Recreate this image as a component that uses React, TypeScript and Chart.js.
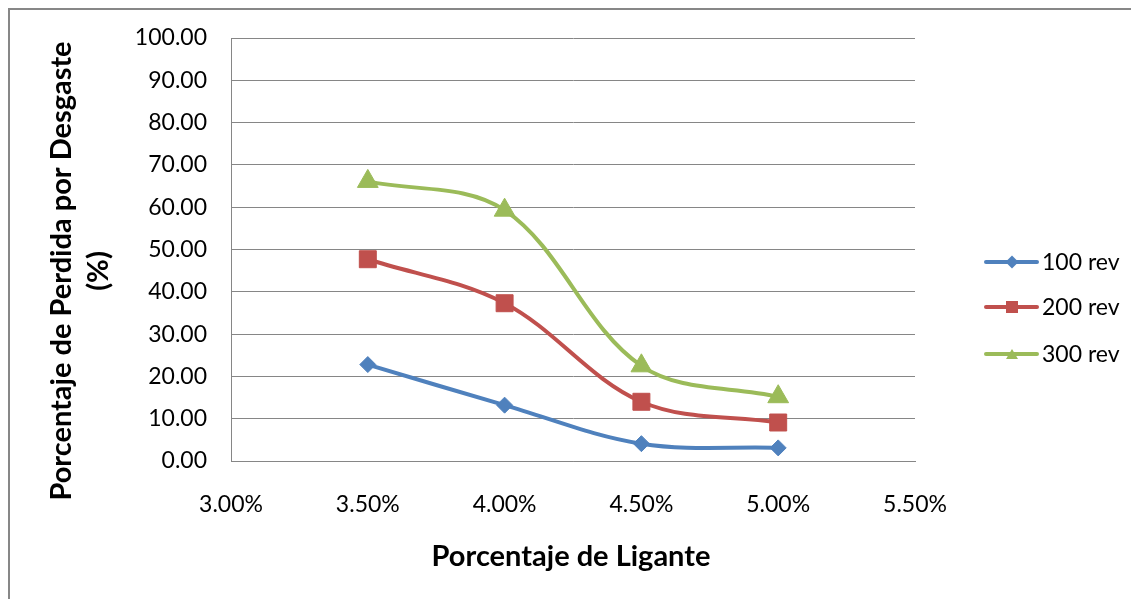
import { useEffect, useRef } from 'react';
import { Chart, registerables } from 'chart.js';

Chart.register(...registerables);

// Binder content (%) on the x axis
const binderPct = [3.5, 4.0, 4.5, 5.0];

// Abrasion loss (%) after each number of revolutions
const loss100 = [22.8, 13.2, 4.1, 3.1];
const loss200 = [47.7, 37.3, 14.0, 9.1];
const loss300 = [66.1, 59.3, 22.5, 15.2];

const seriesNames = ['100 rev', '200 rev', '300 rev'];
const seriesColors = ['#4F81BD', '#C0504D', '#9BBB59'];
const seriesMarkers = ['rectRot', 'rect', 'triangle'] as const;
const seriesValues = [loss100, loss200, loss300];

const xTitle = 'Porcentaje de Ligante';
const yTitleLines = ['Porcentaje de Perdida por Desgaste', '(%)'];

const FONT = 'Lato, "Open Sans", sans-serif';

function drawMarker(ctx: CanvasRenderingContext2D, kind: string, x: number, y: number, s: number) {
  ctx.beginPath();
  if (kind === 'rectRot') {
    ctx.moveTo(x - s, y);
    ctx.lineTo(x, y - s);
    ctx.lineTo(x + s, y);
    ctx.lineTo(x, y + s);
  } else if (kind === 'rect') {
    ctx.rect(x - s, y - s, 2 * s, 2 * s);
  } else {
    const h = s * 1.7;
    ctx.moveTo(x, y - h / 2);
    ctx.lineTo(x + s, y + h / 2);
    ctx.lineTo(x - s, y + h / 2);
  }
  ctx.closePath();
  ctx.fill();
}

// Axis titles and the right-hand legend
const decorations = {
  id: 'decorations',
  afterDraw(chart: Chart) {
    const ctx = chart.ctx;
    ctx.save();
    ctx.fillStyle = '#000';
    ctx.textAlign = 'center';
    ctx.textBaseline = 'middle';
    ctx.font = `bold 29px ${FONT}`;
    ctx.fillText(xTitle, 561, 547);

    ctx.save();
    ctx.translate(52, 261);
    ctx.rotate(-Math.PI / 2);
    ctx.fillText(yTitleLines[0], 0, 0);
    ctx.fillText(yTitleLines[1], 0, 37);
    ctx.restore();

    const rows = [252, 297, 344];
    ctx.font = `23px ${FONT}`;
    ctx.textAlign = 'left';
    seriesNames.forEach((name, i) => {
      const y = rows[i];
      ctx.strokeStyle = seriesColors[i];
      ctx.fillStyle = seriesColors[i];
      ctx.lineWidth = 4;
      ctx.lineCap = 'round';
      ctx.beginPath();
      ctx.moveTo(976, y);
      ctx.lineTo(1027, y);
      ctx.stroke();
      drawMarker(ctx, seriesMarkers[i], 1002, y, i === 0 ? 6.5 : 6);
      ctx.fillStyle = '#000';
      ctx.fillText(name, 1032, y + 1);
    });
    ctx.restore();
  },
};

export default function App() {
  const canvasRef = useRef<HTMLCanvasElement | null>(null);

  useEffect(() => {
    if (!canvasRef.current) return;
    const chart = new Chart(canvasRef.current, {
      type: 'line',
      data: {
        datasets: seriesValues.map((vals, i) => ({
          label: seriesNames[i],
          data: binderPct.map((x, j) => ({ x, y: vals[j] })),
          borderColor: seriesColors[i],
          backgroundColor: seriesColors[i],
          borderWidth: 4,
          tension: 0.35,
          pointStyle: seriesMarkers[i],
          pointRadius: i === 0 ? 8 : 12,
          pointBorderWidth: 1,
          pointBackgroundColor: seriesColors[i],
          pointBorderColor: seriesColors[i],
          fill: false,
        })),
      },
      options: {
        responsive: false,
        animation: false,
        layout: { padding: { left: 0, top: 28, right: 224, bottom: 0 } },
        plugins: {
          legend: { display: false },
          tooltip: { enabled: false },
          title: { display: false },
        },
        scales: {
          x: {
            type: 'linear',
            min: 3,
            max: 5.5,
            afterFit: (scale: any) => {
              scale.height = 138;
              scale.paddingLeft = 0;
              scale.paddingRight = 0;
            },
            ticks: {
              stepSize: 0.5,
              padding: 30,
              color: '#000',
              font: { family: FONT, size: 23 },
              callback: (v: any) => Number(v).toFixed(2) + '%',
              maxRotation: 0,
            },
            grid: { display: false, drawTicks: false },
            border: { display: true, color: '#868686', width: 1 },
          },
          y: {
            type: 'linear',
            min: 0,
            max: 100,
            afterFit: (scale: any) => {
              scale.width = 221;
              scale.paddingTop = 0;
              scale.paddingBottom = 0;
            },
            ticks: {
              stepSize: 10,
              padding: 24,
              color: '#000',
              font: { family: FONT, size: 23 },
              callback: (v: any) => Number(v).toFixed(2),
            },
            grid: { color: '#868686', lineWidth: 1, drawTicks: false },
            border: { display: true, color: '#868686', width: 1 },
          },
        },
      },
      plugins: [decorations],
    });
    return () => chart.destroy();
  }, []);

  return (
    <div
      style={{
        width: 1131,
        height: 591,
        boxSizing: 'border-box',
        borderLeft: '2px solid #878787',
        borderTop: '2px solid #878787',
        background: '#fff',
        overflow: 'hidden',
      }}
    >
      <canvas ref={canvasRef} width={1129} height={589} style={{ display: 'block' }} />
    </div>
  );
}
